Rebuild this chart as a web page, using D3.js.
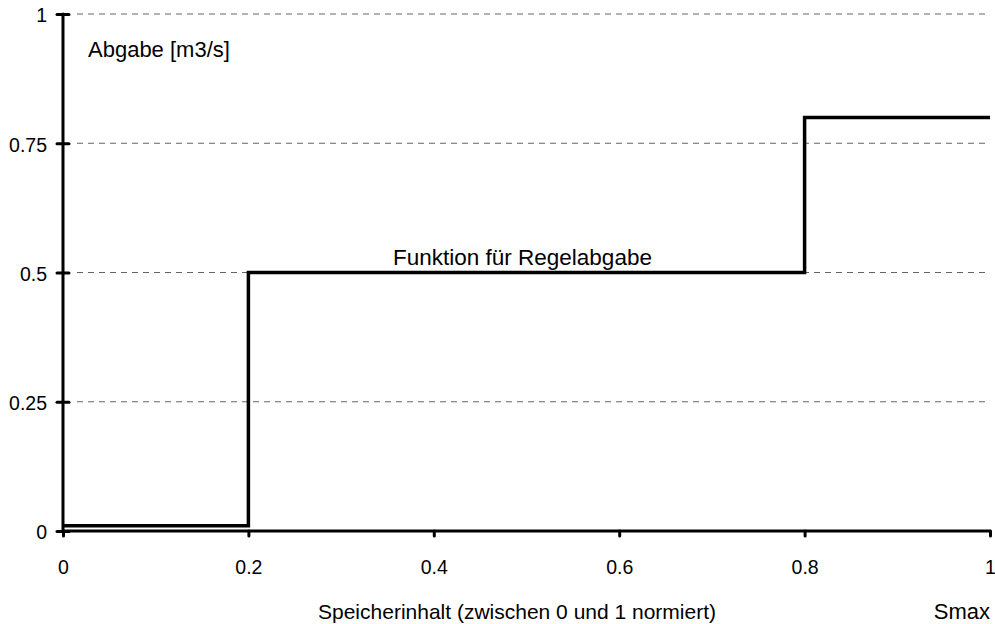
<!DOCTYPE html>
<html><head><meta charset="utf-8">
<script src="https://cdn.jsdelivr.net/npm/d3@7"></script>
<style>body{margin:0;background:#fff}svg{display:block}text{font-family:"Liberation Sans",Arial,sans-serif;font-size:22px;fill:#000}</style>
</head><body><svg id="c" width="995" height="624"></svg>
<script>
const stepX = [0, 0.2, 0.2, 0.8, 0.8, 1];
const stepY = [0.01, 0.01, 0.5, 0.5, 0.8, 0.8];
const xTicks = [0, 0.2, 0.4, 0.6, 0.8, 1];
const xTickLabels = ["0", "0.2", "0.4", "0.6", "0.8", "1"];
const yTicks = [0, 0.25, 0.5, 0.75, 1];
const yTickLabels = ["0", "0.25", "0.5", "0.75", "1"];
const gridVals = [0.25, 0.5, 0.75, 1];
const yLabel = "Abgabe [m3/s]";
const xLabel = "Speicherinhalt (zwischen 0 und 1 normiert)";
const xEndLabel = "Smax";
const seriesLabel = "Funktion für Regelabgabe";

const svg = d3.select("#c");
const x = d3.scaleLinear().domain([0,1]).range([63,990]);
const y = d3.scaleLinear().domain([0,1]).range([531,14]);
const tickFont = "19.5px";

// grid
svg.append("g").selectAll("line").data(gridVals).join("line")
  .attr("x1", x(0)+14).attr("x2", x(1)).attr("y1", d=>y(d)).attr("y2", d=>y(d))
  .attr("stroke","#666").attr("stroke-width",1).attr("stroke-dasharray","6,5");

// x axis
const xa = svg.append("g").attr("transform",`translate(0,${y(0)})`)
  .call(d3.axisBottom(x).tickValues(xTicks).tickFormat((d,i)=>xTickLabels[i]).tickSize(6).tickPadding(23));
xa.select(".domain").attr("stroke","#000").attr("stroke-width",3).attr("d",`M${x(0)},0H${x(1)}`).attr("stroke-linecap","round");
xa.selectAll(".tick line").attr("stroke-width",3).attr("stroke-linecap","round").attr("y2",5);
xa.selectAll(".tick text").style("font-size",tickFont).style("font-family",'"Liberation Sans",Arial,sans-serif');

// y axis
const ya = svg.append("g").attr("transform",`translate(${x(0)},0)`)
  .call(d3.axisLeft(y).tickValues(yTicks).tickFormat((d,i)=>yTickLabels[i]).tickSize(0).tickPadding(16));
ya.select(".domain").attr("stroke","#000").attr("stroke-width",3).attr("d",`M0,${y(0)}V${y(1)}`).attr("stroke-linecap","round");
ya.selectAll(".tick line").attr("stroke-width",3).attr("x1",-6).attr("x2",6).attr("stroke","#000").attr("stroke-linecap","round");
ya.selectAll(".tick text").style("font-size",tickFont).style("font-family",'"Liberation Sans",Arial,sans-serif').attr("dy","0.4em");

// step line
const pts = stepX.map((v,i)=>[v, stepY[i]]);
svg.append("path").datum(pts)
  .attr("d", d3.line().x(d=>x(d[0])).y(d=>y(d[1])))
  .attr("fill","none").attr("stroke","#000").attr("stroke-width",3.5).attr("stroke-linejoin","miter");

svg.append("text").attr("x",88).attr("y",57).text(yLabel);
svg.append("text").attr("x",393).attr("y",265).style("font-size","22.5px").text(seriesLabel);
svg.append("text").attr("x",318).attr("y",619).style("font-size","21px").text(xLabel);
svg.append("text").attr("x",990).attr("y",619).attr("text-anchor","end").text(xEndLabel);
</script></body></html>
